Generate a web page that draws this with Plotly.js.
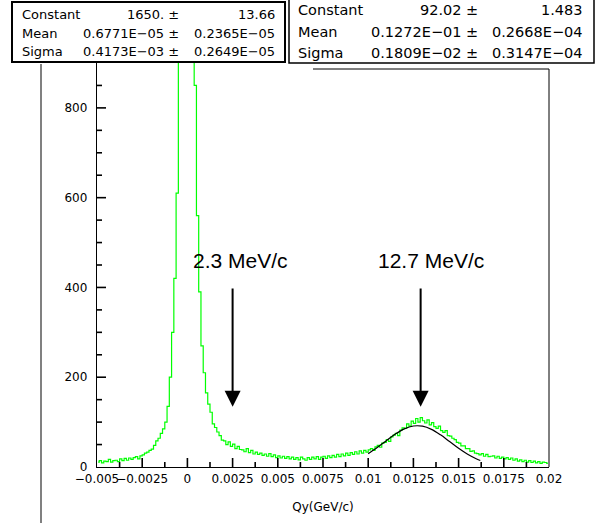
<!DOCTYPE html>
<html>
<head>
<meta charset="utf-8">
<script src="https://cdn.plot.ly/plotly-3.0.1.min.js"></script>
<style>html,body{margin:0;padding:0;background:#fff;}#chart{width:606px;height:523px;}</style>
</head>
<body>
<div id="chart"></div>
<script>
// Histogram: Qy (GeV/c), 200 bins from -0.005 to 0.02
const binLo = -0.005;
const binWidth = 0.000125;
const counts = [
  11, 14, 9, 13, 12, 17, 11, 14,
  15, 12, 18, 14, 19, 15, 20, 17,
  21, 23, 18, 25, 27, 31, 33, 37,
  40, 48, 58, 64, 75, 85, 100, 135,
  200, 300, 420, 610, 920, 1250, 1520, 1660,
  1640, 1450, 1150, 850, 560, 390, 270, 210,
  165, 140, 122, 96, 88, 78, 70, 60,
  58, 50, 56, 46, 51, 41, 46, 39,
  38, 34, 41, 32, 37, 29, 33, 28,
  31, 26, 29, 24, 30, 23, 27, 21,
  25, 20, 24, 19, 23, 18, 22, 17,
  21, 16, 22, 18, 15, 21, 17, 22,
  18, 23, 17, 22, 24, 19, 25, 21,
  26, 22, 28, 23, 29, 25, 31, 26,
  32, 28, 34, 29, 36, 31, 37, 33,
  38, 41, 37, 45, 48, 44, 53, 55,
  61, 57, 67, 71, 75, 70, 82, 87,
  86, 96, 91, 102, 97, 108, 100, 110,
  103, 98, 105, 94, 99, 90, 86, 91,
  81, 77, 81, 70, 69, 64, 61, 55,
  53, 47, 47, 41, 41, 35, 36, 31,
  30, 27, 30, 24, 28, 23, 24, 25,
  20, 24, 19, 22, 18, 21, 17, 20,
  15, 18, 13, 16, 12, 15, 11, 14,
  10, 13, 9, 12, 8, 11, 10, 8
];

// Fitted gaussian (second peak)
const fitX = [0.0100, 0.0105, 0.0110, 0.0115, 0.0120, 0.0125, 0.0130, 0.0135, 0.0140, 0.0145, 0.0150, 0.0155, 0.0160, 0.0162];
const fitY = [29.7, 43.3, 58.6, 73.3, 85.0, 91.3, 90.9, 83.9, 71.6, 56.7, 41.6, 28.3, 17.8, 14.5];

// Axes
const xTickVals = [-0.005, -0.0025, 0, 0.0025, 0.005, 0.0075, 0.01, 0.0125, 0.015, 0.0175, 0.02];
const xTickText = ["\u22120.005", "\u22120.0025", "0", "0.0025", "0.005", "0.0075", "0.01", "0.0125", "0.015", "0.0175", "0.02"];
const xMinorStep = 0.00125;
const yTickVals = [0, 200, 400, 600, 800];
const yTickText = ["0", "200", "400", "600", "800"];
const yMinorStep = 50;
const xRange = [-0.005, 0.02];
const yRange = [0, 900];

// Fit statistics boxes
const statLabels = ["Constant", "Mean", "Sigma"];
const fit1Values = ["1650. \u00b1", "0.6771E\u221205 \u00b1", "0.4173E\u221203 \u00b1"];
const fit1Errors = ["13.66", "0.2365E\u221205", "0.2649E\u221205"];
const fit2Values = ["92.02 \u00b1", "0.1272E\u221201 \u00b1", "0.1809E\u221202 \u00b1"];
const fit2Errors = ["1.483", "0.2668E\u221204", "0.3147E\u221204"];

// Arrow markers
const arrowLabels = ["2.3 MeV/c", "12.7 MeV/c"];
const arrowX = [0.0025, 0.0129];
const arrowLabelX = [0.00293, 0.01347];
const arrowTop = 401;
const arrowTip = 134;
const arrowLabelY = 459;

const W = 606, H = 523, ML = 97, MR = 57, MT = 63, MB = 56;
const PW = W - ML - MR, PH = H - MT - MB;
const px = v => (v - ML) / PW;
const py = v => (H - MB - v) / PH;

const traces = [
  {
    type: 'scatter', mode: 'lines',
    x0: binLo + binWidth / 2, dx: binWidth, y: counts,
    line: {color: '#00ff00', width: 1.2, shape: 'hvh'},
    hoverinfo: 'skip'
  },
  {
    type: 'scatter', mode: 'lines',
    x: fitX, y: fitY,
    line: {color: '#000000', width: 1.2, shape: 'spline'},
    hoverinfo: 'skip'
  }
];

const annotations = [];
const shapes = [];

// inside tick marks drawn on the axes' own scales
const majorLenX = 9 / PH, minorLenX = 5 / PH;
const majorLenY = 9 / PW, minorLenY = 5 / PW;
const tickLine = {color: '#000', width: 1.6};
xTickVals.forEach(v => {
  if (v > xRange[0] && v < xRange[1])
    shapes.push({type: 'line', xref: 'x', yref: 'paper', x0: v, x1: v, y0: 0, y1: majorLenX, line: tickLine, layer: 'above'});
});
for (let k = 1; xRange[0] + k * xMinorStep < xRange[1] - 1e-9; k++) {
  if (k % 2 === 1) {
    const v = xRange[0] + k * xMinorStep;
    shapes.push({type: 'line', xref: 'x', yref: 'paper', x0: v, x1: v, y0: 0, y1: minorLenX, line: tickLine, layer: 'above'});
  }
}
yTickVals.forEach(v => {
  if (v > yRange[0] && v < yRange[1])
    shapes.push({type: 'line', xref: 'paper', yref: 'y', x0: 0, x1: majorLenY, y0: v, y1: v, line: tickLine, layer: 'above'});
});
for (let k = 1; yRange[0] + k * yMinorStep < yRange[1]; k++) {
  const v = yRange[0] + k * yMinorStep;
  if (v % 200 !== 0)
    shapes.push({type: 'line', xref: 'paper', yref: 'y', x0: 0, x1: minorLenY, y0: v, y1: v, line: tickLine, layer: 'above'});
}

// stat box 1
shapes.push({type: 'rect', xref: 'paper', yref: 'paper', x0: px(12), x1: px(285), y0: py(62), y1: py(2),
  line: {color: '#000', width: 2}, fillcolor: '#fff', layer: 'above'});
// stat box 2
shapes.push({type: 'rect', xref: 'paper', yref: 'paper', x0: px(289), x1: px(594), y0: py(63), y1: py(-3),
  line: {color: '#000', width: 1.5}, fillcolor: '#fff', layer: 'above'});
// frame pieces
shapes.push({type: 'line', xref: 'paper', yref: 'paper', x0: 1, x1: 1, y0: 0, y1: py(69),
  line: {color: '#000', width: 1}, layer: 'above'});
shapes.push({type: 'line', xref: 'paper', yref: 'paper', x0: px(313), x1: 1, y0: py(69), y1: py(69),
  line: {color: '#000', width: 1}, layer: 'above'});
// gray vertical line at left
shapes.push({type: 'line', xref: 'paper', yref: 'paper', x0: px(41), x1: px(41), y0: py(64), y1: py(530),
  line: {color: '#808080', width: 2}, layer: 'above'});

const box1Rows = [15, 34, 52];
const box2Rows = [10, 32, 53];
const f1 = {family: 'DejaVu Sans', size: 13, color: '#000'};
const f2 = {family: 'DejaVu Sans', size: 14.5, color: '#000'};
for (let i = 0; i < 3; i++) {
  annotations.push({xref: 'paper', yref: 'paper', x: px(20), y: py(box1Rows[i]), xanchor: 'left', yanchor: 'middle',
    text: statLabels[i], showarrow: false, font: f1});
  annotations.push({xref: 'paper', yref: 'paper', x: px(181), y: py(box1Rows[i]), xanchor: 'right', yanchor: 'middle',
    text: fit1Values[i], showarrow: false, font: f1});
  annotations.push({xref: 'paper', yref: 'paper', x: px(277), y: py(box1Rows[i]), xanchor: 'right', yanchor: 'middle',
    text: fit1Errors[i], showarrow: false, font: f1});
  annotations.push({xref: 'paper', yref: 'paper', x: px(296), y: py(box2Rows[i]), xanchor: 'left', yanchor: 'middle',
    text: statLabels[i], showarrow: false, font: f2});
  annotations.push({xref: 'paper', yref: 'paper', x: px(480), y: py(box2Rows[i]), xanchor: 'right', yanchor: 'middle',
    text: fit2Values[i], showarrow: false, font: f2});
  annotations.push({xref: 'paper', yref: 'paper', x: px(585), y: py(box2Rows[i]), xanchor: 'right', yanchor: 'middle',
    text: fit2Errors[i], showarrow: false, font: f2});
}

for (let i = 0; i < 2; i++) {
  annotations.push({xref: 'x', yref: 'y', x: arrowLabelX[i], y: arrowLabelY, text: arrowLabels[i], showarrow: false,
    xanchor: 'center', yanchor: 'middle', font: {family: 'Liberation Sans', size: 21, color: '#000'}});
  annotations.push({xref: 'x', yref: 'y', x: arrowX[i], y: arrowTip, axref: 'x', ayref: 'y', ax: arrowX[i], ay: arrowTop,
    text: '', showarrow: true, arrowhead: 2, arrowsize: 1.6, arrowwidth: 2, arrowcolor: '#000', standoff: 0, startstandoff: 0});
}

const tickFont = {family: 'DejaVu Sans', size: 12, color: '#000'};

const layout = {
  width: W, height: H,
  margin: {l: ML, r: MR, t: MT, b: MB},
  paper_bgcolor: '#fff', plot_bgcolor: '#fff',
  showlegend: false,
  xaxis: {
    range: xRange, tickmode: 'array', tickvals: xTickVals, ticktext: xTickText, tickangle: 0,
    ticks: '', showline: true, linecolor: 'black', linewidth: 1.2, mirror: false,
    showgrid: false, zeroline: false, tickfont: tickFont,
    title: {text: 'Qy(GeV/c)', font: {family: 'DejaVu Sans', size: 12, color: '#000'}, standoff: 18}
  },
  yaxis: {
    range: yRange, tickmode: 'array', tickvals: yTickVals, ticktext: yTickText,
    ticks: '', showline: true, linecolor: 'black', linewidth: 1.2, mirror: false,
    showgrid: false, zeroline: false, tickfont: tickFont, ticklabelstandoff: 6
  },
  shapes: shapes,
  annotations: annotations
};

Plotly.newPlot('chart', traces, layout, {displayModeBar: false, staticPlot: true});
</script>
</body>
</html>
